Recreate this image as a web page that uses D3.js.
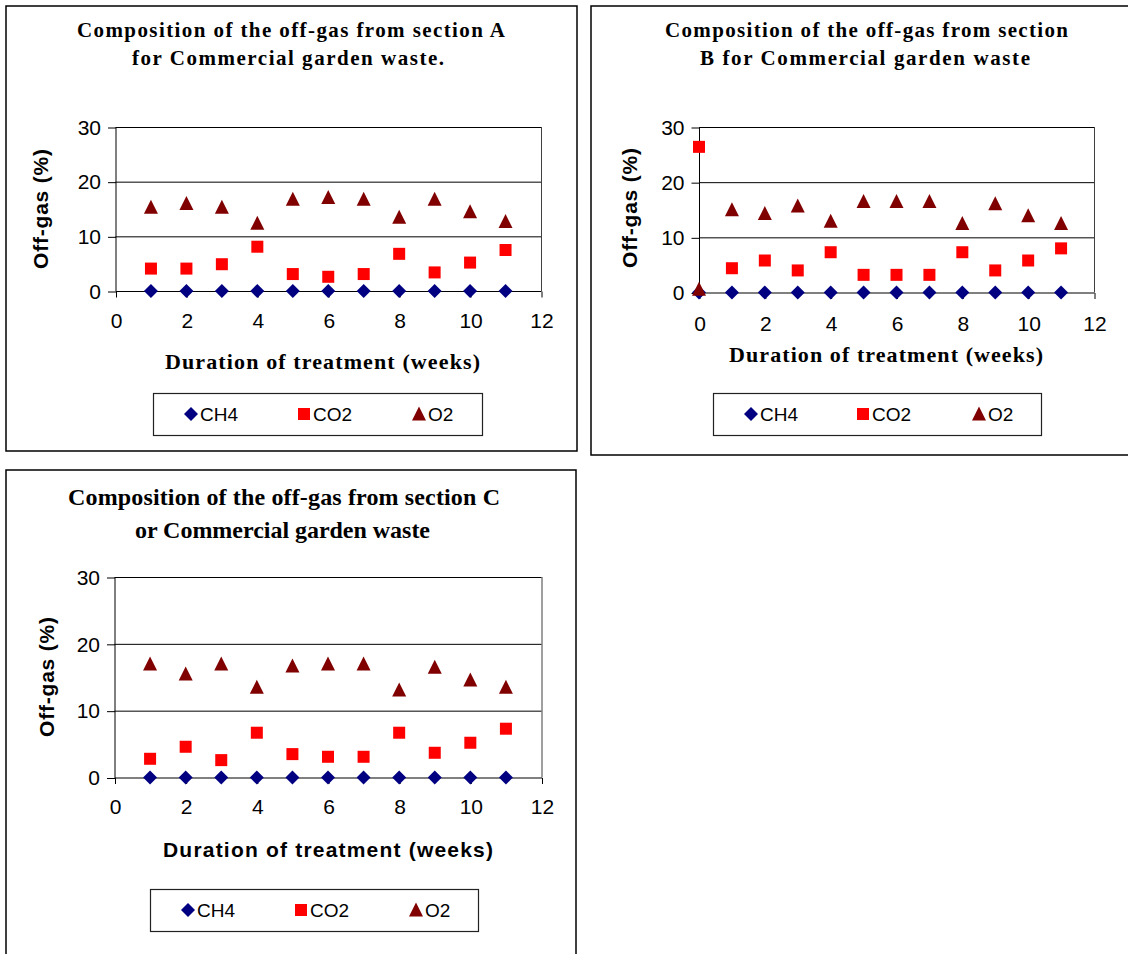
<!DOCTYPE html>
<html>
<head>
<meta charset="utf-8">
<script src="https://cdn.jsdelivr.net/npm/d3@7"></script>
<style>
  html, body { margin: 0; padding: 0; background: #fff; }
  svg { display: block; }
</style>
</head>
<body>
<svg id="fig" width="1128" height="954"></svg>
<script>
// Off-gas composition (%) measured weekly in three compost sections
const seriesNames = ["CH4", "CO2", "O2"];
const yTicks = [0, 10, 20, 30];
const xTicks = [0, 2, 4, 6, 8, 10, 12];

// Section A
const weeksA = [1, 2, 3, 4, 5, 6, 7, 8, 9, 10, 11];
const ch4A = [0, 0, 0, 0, 0, 0, 0, 0, 0, 0, 0];
const co2A = [4.1, 4.1, 4.9, 8.1, 3.1, 2.6, 3.1, 6.8, 3.4, 5.2, 7.5];
const o2A = [15.3, 16.0, 15.3, 12.4, 16.8, 17.1, 16.8, 13.5, 16.8, 14.5, 12.7];

// Section B
const weeksB = [0, 1, 2, 3, 4, 5, 6, 7, 8, 9, 10, 11];
const ch4B = [0, 0, 0, 0, 0, 0, 0, 0, 0, 0, 0, 0];
const co2B = [26.4, 4.4, 5.8, 4.0, 7.3, 3.2, 3.2, 3.2, 7.3, 4.0, 5.8, 8.0];
const o2B = [0.6, 15.0, 14.3, 15.7, 12.9, 16.5, 16.5, 16.5, 12.5, 16.1, 13.9, 12.5];

// Section C
const weeksC = [1, 2, 3, 4, 5, 6, 7, 8, 9, 10, 11];
const ch4C = [0, 0, 0, 0, 0, 0, 0, 0, 0, 0, 0];
const co2C = [2.8, 4.6, 2.6, 6.7, 3.5, 3.1, 3.1, 6.7, 3.7, 5.2, 7.3];
const o2C = [17.0, 15.5, 17.0, 13.5, 16.7, 17.0, 17.0, 13.1, 16.5, 14.6, 13.5];

const titleA = ["Composition of the off-gas from section A", "for Commercial garden waste."];
const titleB = ["Composition of the off-gas from section", "B for Commercial garden waste"];
const titleC = ["Composition of the off-gas from section C", "or Commercial garden waste"];
const xTitle = "Duration of treatment (weeks)";
const yTitle = "Off-gas (%)";

const SERIF = "'Liberation Serif', 'Times New Roman', serif";
const SANS = "'Liberation Sans', Arial, sans-serif";
const colors = { CH4: "#000080", CO2: "#ff0000", O2: "#800000" };

const svg = d3.select("#fig");

function marker(g, name, cx, cy) {
  if (name === "CH4") {
    g.append("path")
      .attr("d", `M${cx},${cy - 7}L${cx + 7},${cy}L${cx},${cy + 7}L${cx - 7},${cy}Z`)
      .attr("fill", colors.CH4);
  } else if (name === "CO2") {
    g.append("rect").attr("x", cx - 6).attr("y", cy - 6)
      .attr("width", 12).attr("height", 12).attr("fill", colors.CO2);
  } else {
    g.append("path")
      .attr("d", `M${cx},${cy - 7.5}L${cx + 7},${cy + 6.5}L${cx - 7},${cy + 6.5}Z`)
      .attr("fill", colors.O2);
  }
}

function drawChart(cfg) {
  const g = svg.append("g");
  // chart frame
  g.append("rect").attr("x", cfg.frame[0]).attr("y", cfg.frame[1])
    .attr("width", cfg.frame[2]).attr("height", cfg.frame[3])
    .attr("fill", "#fff").attr("stroke", "#000").attr("stroke-width", 1.5);

  // title
  cfg.title.forEach((t, i) => {
    g.append("text")
      .attr("x", cfg.titlePos[i][0]).attr("y", cfg.titlePos[i][1])
      .attr("text-anchor", "middle")
      .attr("font-family", SERIF).attr("font-weight", "bold")
      .attr("font-size", cfg.titleSize)
      .attr("textLength", cfg.titlePos[i][2]).attr("lengthAdjust", "spacing")
      .text(t);
  });

  const x = d3.scaleLinear().domain([0, 12]).range([cfg.plot.x0, cfg.plot.x1]);
  const y = d3.scaleLinear().domain([0, 30]).range([cfg.plot.y0, cfg.plot.y1]);

  // horizontal gridlines
  g.append("g").selectAll("line").data(yTicks.filter(d => d > 0)).join("line")
    .attr("x1", x(0)).attr("x2", x(12))
    .attr("y1", d => y(d) + 0.5).attr("y2", d => y(d) + 0.5)
    .attr("stroke", "#000").attr("stroke-width", 1);
  // right border of plot area
  g.append("line").attr("x1", x(12) + 0.5).attr("x2", x(12) + 0.5)
    .attr("y1", y(30)).attr("y2", y(0))
    .attr("stroke", "#404040").attr("stroke-width", 1);

  // y axis
  const yAxis = d3.axisLeft(y).tickValues(yTicks).tickSize(8).tickPadding(7);
  const ya = g.append("g").attr("transform", `translate(${x(0) + 0.5},0.5)`).call(yAxis);
  ya.select(".domain").attr("stroke", "#000").attr("d", `M0,${y(30)}V${y(0)}`);
  ya.selectAll(".tick line").attr("stroke", "#000");
  ya.selectAll(".tick text").attr("font-family", SANS).attr("font-size", 21)
    .attr("fill", "#000");

  // x axis
  const xAxis = d3.axisBottom(x).tickValues(xTicks).tickSize(6).tickPadding(cfg.xTickPad);
  const xa = g.append("g").attr("transform", `translate(0.5,${y(0) + 0.5})`).call(xAxis);
  xa.select(".domain").attr("stroke", "#000").attr("d", `M${x(0)},0H${x(12)}`);
  xa.selectAll(".tick line").attr("stroke", "#000");
  xa.selectAll(".tick text").attr("font-family", SANS).attr("font-size", 21)
    .attr("fill", "#000");

  // axis titles
  g.append("text")
    .attr("transform", `translate(${cfg.yTitlePos[0]},${cfg.yTitlePos[1]}) rotate(-90)`)
    .attr("text-anchor", "middle").attr("dy", "0.35em")
    .attr("font-family", SANS).attr("font-weight", "bold").attr("font-size", 21)
    .attr("textLength", cfg.yTitlePos[2]).attr("lengthAdjust", "spacing")
    .text(yTitle);
  g.append("text")
    .attr("x", cfg.xTitlePos[0]).attr("y", cfg.xTitlePos[1])
    .attr("text-anchor", "middle")
    .attr("font-family", cfg.xTitleFont).attr("font-weight", "bold")
    .attr("font-size", cfg.xTitleSize)
    .attr("textLength", cfg.xTitlePos[2]).attr("lengthAdjust", "spacing")
    .text(xTitle);

  // data points
  const pts = g.append("g");
  cfg.series.forEach((vals, si) => {
    const name = seriesNames[si];
    vals.forEach((v, i) => marker(pts, name, x(cfg.weeks[i]), y(v)));
  });

  // legend
  const L = cfg.legend;
  const lg = g.append("g");
  lg.append("rect").attr("x", L.x + 0.5).attr("y", L.y + 0.5)
    .attr("width", L.w).attr("height", L.h)
    .attr("fill", "#fff").attr("stroke", "#222").attr("stroke-width", 1.2);
  seriesNames.forEach((name, i) => {
    const cx = L.x + L.items[i];
    const cy = L.y + L.h / 2;
    marker(lg, name, cx, cy);
    lg.append("text").attr("x", cx + 9).attr("y", cy).attr("dy", "0.36em")
      .attr("font-family", SANS).attr("font-size", 19).attr("fill", "#000")
      .text(name);
  });
}

drawChart({
  frame: [6, 6, 571, 445],
  title: titleA, titleSize: 21,
  titlePos: [[291, 37, 428], [288, 65, 312]],
  plot: { x0: 115.5, x1: 541, y0: 291, y1: 127 },
  xTickPad: 16,
  yTitlePos: [41, 209, 120],
  xTitlePos: [322.5, 369, 315], xTitleFont: SERIF, xTitleSize: 22,
  weeks: weeksA, series: [ch4A, co2A, o2A],
  legend: { x: 153, y: 393, w: 329, h: 42, items: [38, 151, 266] }
});

drawChart({
  frame: [591, 6, 560, 449],
  title: titleB, titleSize: 21,
  titlePos: [[866.5, 37, 403], [865, 65, 330]],
  plot: { x0: 699, x1: 1094, y0: 292.5, y1: 127 },
  xTickPad: 17,
  yTitlePos: [630, 208, 120],
  xTitlePos: [886, 362, 314], xTitleFont: SERIF, xTitleSize: 22,
  weeks: weeksB, series: [ch4B, co2B, o2B],
  legend: { x: 713, y: 393, w: 328, h: 42, items: [38, 150, 266] }
});

drawChart({
  frame: [6, 470, 570, 500],
  title: titleC, titleSize: 24,
  titlePos: [[284, 505, 432], [282.5, 538, 295]],
  plot: { x0: 114.5, x1: 541.5, y0: 777.5, y1: 577 },
  xTickPad: 15,
  yTitlePos: [47, 677, 120],
  xTitlePos: [328, 857, 330], xTitleFont: SANS, xTitleSize: 21,
  weeks: weeksC, series: [ch4C, co2C, o2C],
  legend: { x: 150, y: 889, w: 328, h: 42, items: [38, 151, 266] }
});
</script>
</body>
</html>
